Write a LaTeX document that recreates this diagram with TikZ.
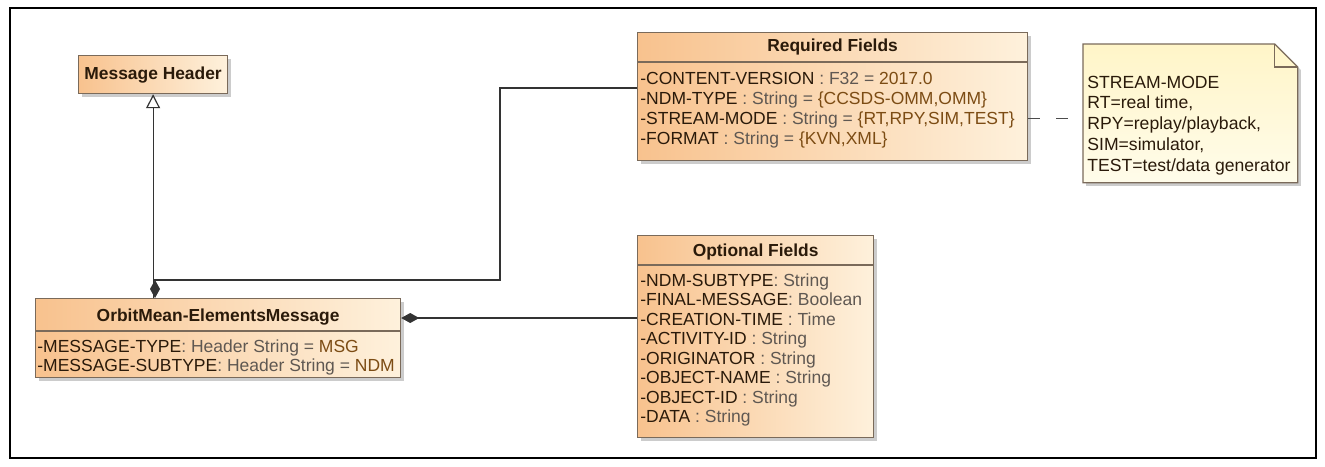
\documentclass[tikz,border=0pt]{standalone}
\usepackage{fontspec}
\setmainfont{Liberation Sans}
\usetikzlibrary{arrows.meta,shadows}
\definecolor{clsA}{HTML}{F8C28E}
\definecolor{clsB}{HTML}{FEF1DC}
\definecolor{noteA}{HTML}{FFF5C8}
\definecolor{noteB}{HTML}{FFFCEA}
\definecolor{nm}{HTML}{2A1A0A}
\definecolor{ty}{HTML}{5F5852}
\definecolor{vl}{HTML}{7C4C14}
\definecolor{edge}{HTML}{7A6A5A}
\newcommand{\attr}[3]{\textcolor{nm}{#1}\textcolor{ty}{#2}\textcolor{vl}{#3}}
\tikzset{
  cls/.style={draw=edge, line width=0.6pt, left color=clsA, right color=clsB,
    drop shadow={shadow xshift=1.5pt, shadow yshift=-1.5pt, fill=black!40, opacity=0.5},
    inner sep=0pt, anchor=north west},
  ttl/.style={font=\fontsize{8.7}{10}\selectfont\bfseries, text=nm},
  row/.style={font=\fontsize{8.75}{10}\selectfont, anchor=base west, inner sep=0pt},
  nrow/.style={font=\fontsize{8.8}{10.3}\selectfont, text=nm, anchor=base west, inner sep=0pt},
  sep/.style={draw=edge, line width=0.6pt},
  conn/.style={draw=black!80, line width=0.6pt},
}
\begin{document}
\begin{tikzpicture}[x=0.5pt,y=-0.5pt]
\useasboundingbox (0,0) rectangle (1325,466);
\draw[line width=1.2pt] (10,8) rectangle (1316,458);

% Message Header
\node[cls, minimum width=74.5pt, minimum height=19pt] (mh) at (78,55) {};
\node[ttl] (mht) at (mh.center) {Message Header};

% Required Fields
\node[cls, minimum width=195pt, minimum height=64pt] (req) at (637,32) {};
\node[ttl] (reqt) at (req.center |- 0,47) {Required Fields};
\draw[sep] (req.west |- 0,62) -- (req.east |- 0,62);
\node[row] (rq1) at (640,84) {\attr{-CONTENT-VERSION}{~: F32 = }{2017.0}};
\node[row] (rq2) at (640,104) {\attr{-NDM-TYPE}{~: String = }{\{CCSDS-OMM,OMM\}}};
\node[row] (rq3) at (640,124) {\attr{-STREAM-MODE}{~: String = }{\{RT,RPY,SIM,TEST\}}};
\node[row] (rq4) at (640,144) {\attr{-FORMAT}{~: String = }{\{KVN,XML\}}};

% Note
\node[minimum width=107pt, minimum height=69pt, inner sep=0pt, anchor=north west] (note) at (1083,44) {};
\fill[black!40, opacity=0.5] ([xshift=1.5pt,yshift=-1.5pt]note.north west) -- ([xshift=-10pt,yshift=-1.5pt]note.north east)
  -- ([xshift=1.5pt,yshift=-13pt]note.north east) -- ([xshift=1.5pt,yshift=-1.5pt]note.south east) -- ([xshift=1.5pt,yshift=-1.5pt]note.south west) -- cycle;
\draw[edge, line width=0.6pt, top color=noteA, bottom color=noteB] (note.north west) -- ([xshift=-11.5pt]note.north east)
  -- ([yshift=-11.5pt]note.north east) -- (note.south east) -- (note.south west) -- cycle;
\draw[edge, line width=0.6pt] ([xshift=-11.5pt]note.north east) -- ([xshift=-11.5pt,yshift=-11.5pt]note.north east) -- ([yshift=-11.5pt]note.north east);
\node[nrow] (nt1) at (1087,88) {STREAM-MODE};
\node[nrow] (nt2) at (1087,108.5) {RT=real time,};
\node[nrow] (nt3) at (1087,129) {RPY=replay/playback,};
\node[nrow] (nt4) at (1087,150) {SIM=simulator,};
\node[nrow] (nt5) at (1087,171) {TEST=test/data generator};

% OrbitMean
\node[cls, minimum width=182.5pt, minimum height=39.5pt] (om) at (35,298) {};
\node[ttl] (omt) at (om.center |- 0,317) {OrbitMean-ElementsMessage};
\draw[sep] (om.west |- 0,331) -- (om.east |- 0,331);
\node[row] (om1) at (37,352) {\attr{-MESSAGE-TYPE}{: Header String = }{MSG}};
\node[row] (om2) at (37,371) {\attr{-MESSAGE-SUBTYPE}{: Header String = }{NDM}};

% Optional Fields
\node[cls, minimum width=118pt, minimum height=101pt] (opt) at (637,235) {};
\node[ttl] (optt) at (opt.center |- 0,252) {Optional Fields};
\draw[sep] (opt.west |- 0,265) -- (opt.east |- 0,265);
\node[row] (op1) at (640,286) {\attr{-NDM-SUBTYPE}{: String}{}};
\node[row] (op2) at (640,305.5) {\attr{-FINAL-MESSAGE}{: Boolean}{}};
\node[row] (op3) at (640,325) {\attr{-CREATION-TIME}{~: Time}{}};
\node[row] (op4) at (640,344.5) {\attr{-ACTIVITY-ID}{~: String}{}};
\node[row] (op5) at (640,364) {\attr{-ORIGINATOR}{~: String}{}};
\node[row] (op6) at (640,383.5) {\attr{-OBJECT-NAME}{~: String}{}};
\node[row] (op7) at (640,403) {\attr{-OBJECT-ID}{~: String}{}};
\node[row] (op8) at (640,422.5) {\attr{-DATA}{~: String}{}};

% connectors
\coordinate (g1) at (mh.south |- om.north);
\draw[conn, -{Triangle[open, length=7pt, width=7pt]}] (g1) -- (mh.south);

\coordinate (d1) at ([xshift=60pt]om.north west);
\coordinate (j1) at (500,280);
\coordinate (r1) at ([yshift=-28pt]req.north west);
\draw[conn, {Diamond[length=9pt, width=5pt]}-] (d1) |- (j1) |- (r1);

\coordinate (d2) at ([yshift=-10pt]om.north east);
\draw[conn, {Diamond[length=9pt, width=5pt]}-] (d2) -- (opt.west |- d2);

\coordinate (n1) at (req.east |- 0,118);
\draw[draw=black!70, line width=0.5pt, dash pattern=on 6pt off 8pt] (n1) -- (note.west |- n1);
\end{tikzpicture}
\end{document}
